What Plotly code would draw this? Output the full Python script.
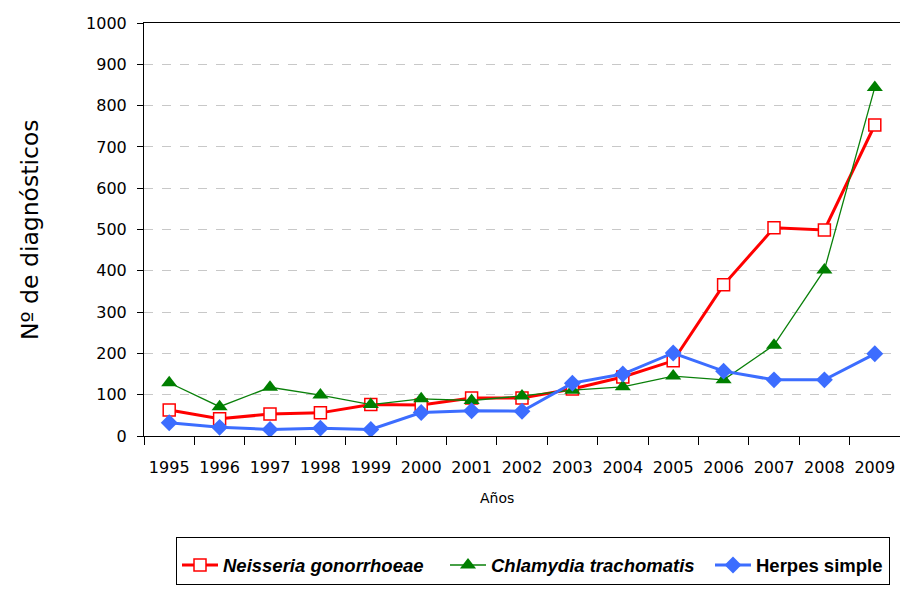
import plotly.graph_objects as go

years = ["1995", "1996", "1997", "1998", "1999", "2000", "2001", "2002",
         "2003", "2004", "2005", "2006", "2007", "2008", "2009"]
neisseria = [63, 42, 53, 56, 76, 75, 92, 92, 114, 143, 182, 366, 504, 499, 753]
chlamydia = [129, 71, 118, 99, 76, 90, 86, 97, 111, 119, 145, 136, 220, 402, 844]
herpes = [32, 21, 16, 19, 16, 57, 61, 60, 128, 150, 201, 157, 136, 136, 199]
y_ticks = [0, 100, 200, 300, 400, 500, 600, 700, 800, 900, 1000]

AXFONT = "DejaVu Sans"
LEGFONT = "Liberation Sans"

W, H = 900, 592
ML, MT, MR, MB = 144, 23, 0, 156
PW = W - ML - MR
PH = H - MT - MB

fig = go.Figure()
fig.add_trace(go.Scatter(
    x=years, y=neisseria, mode="lines+markers",
    name="<b><i>Neisseria gonorrhoeae</i></b>", legendwidth=217,
    line=dict(color="#FF0000", width=3),
    marker=dict(symbol="square", size=12, color="white",
                line=dict(color="#FF0000", width=1.5)),
))
fig.add_trace(go.Scatter(
    x=years, y=chlamydia, mode="lines+markers",
    name="<b><i>Chlamydia trachomatis</i></b>", legendwidth=214,
    line=dict(color="#0A800A", width=1.3),
    marker=dict(symbol="triangle-up", size=14, color="#007F00",
                line=dict(width=0)),
))
fig.add_trace(go.Scatter(
    x=years, y=herpes, mode="lines+markers",
    name="<b>Herpes simple</b>", legendwidth=128,
    line=dict(color="#3C6DFF", width=3),
    marker=dict(symbol="diamond", size=13, color="#3C6DFF",
                line=dict(width=0)),
))

fig.update_layout(
    width=W, height=H,
    margin=dict(l=ML, r=MR, t=MT, b=MB, autoexpand=False),
    paper_bgcolor="white", plot_bgcolor="white",
    font=dict(family=AXFONT, color="black"),
    showlegend=True,
    legend=dict(
        orientation="h", x=32 / PW, y=-101 / PH,
        xanchor="left", yanchor="top",
        bordercolor="black", borderwidth=1,
        font=dict(family=LEGFONT, size=18.5, color="black"),
        itemwidth=36, tracegroupgap=0,
        title=dict(text="&nbsp;", side="top", font=dict(size=6.5)),
    ),
    annotations=[
        dict(text="Años", xref="paper", yref="paper",
             x=(497 - ML) / PW, y=-62 / PH, xanchor="center", yanchor="middle",
             showarrow=False, font=dict(family=AXFONT, size=14, color="black")),
        dict(text="Nº de diagnósticos", xref="paper", yref="paper",
             x=(30 - ML) / PW, y=(436 - 230) / PH, xanchor="center", yanchor="middle",
             textangle=-90, showarrow=False,
             font=dict(family=AXFONT, size=23.5, color="black")),
    ],
)
fig.update_xaxes(
    type="category", range=[-0.5, 14.5], automargin=False,
    tickson="boundaries", ticks="outside", ticklen=8, tickcolor="black",
    ticklabelstandoff=17, ticklabeloverflow="allow",
    showline=True, linecolor="black", linewidth=1, mirror=True,
    showgrid=False,
    tickfont=dict(family=AXFONT, size=16),
)
fig.update_yaxes(
    range=[0, 1000], tickvals=y_ticks, automargin=False,
    ticks="outside", ticklen=6, tickcolor="black",
    ticklabelstandoff=7,
    showline=True, linecolor="black", linewidth=1,
    showgrid=True, gridcolor="#C8C8C8", griddash="dash", gridwidth=1,
    zeroline=False,
    tickfont=dict(family=AXFONT, size=16),
)

# remove the default 8px page margin so the 900x592 figure fills the window
fig.write_html("out.html",
               config={"displayModeBar": False},
               post_script="document.body.style.margin='0';document.body.style.overflow='hidden';")
